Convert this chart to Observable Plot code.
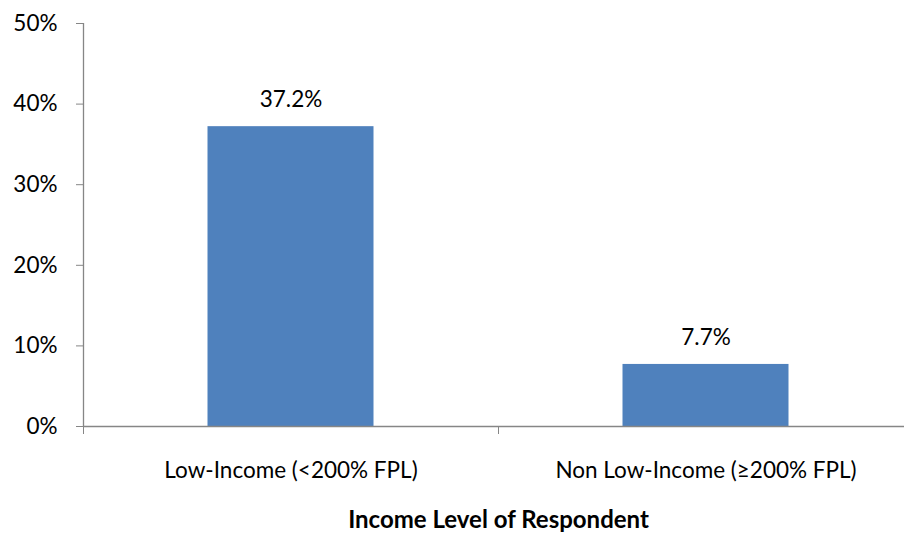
<!DOCTYPE html>
<html><head><meta charset="utf-8">
<script src="https://cdn.jsdelivr.net/npm/d3@7"></script>
<script src="https://cdn.jsdelivr.net/npm/@observablehq/plot@0.6"></script>
<style>body{margin:0;background:#fff} svg{display:block}</style>
</head><body><div id="chart"></div>
<script>
const categories = ["Low-Income (<200% FPL)", "Non Low-Income (≥200% FPL)"];
const values = [37.2, 7.7];
const valueLabels = ["37.2%", "7.7%"];
const yTicks = [0, 10, 20, 30, 40, 50];
const xTitle = "Income Level of Respondent";

const data = categories.map((c, i) => ({i, c, v: values[i], label: valueLabels[i]}));
const boundaries = [-0.5, 0.5, 1.5];
const halfBar = 0.2;
const axisGray = "#868686";
const fs = 22.5;

const chart = Plot.plot({
  width: 904, height: 534,
  marginLeft: 83, marginRight: 0, marginTop: 23, marginBottom: 108,
  style: {fontFamily: "Lato, 'Open Sans', sans-serif", fontSize: fs + "px", color: "#000", background: "#fff"},
  x: {domain: [-0.5, 1.5], range: [83, 913], label: null},
  y: {domain: [0, 50], range: [426, 23], label: null},
  marks: [
    Plot.rectY(data, {x1: d => d.i - halfBar, x2: d => d.i + halfBar, y1: 0, y2: "v", fill: "#4F81BD"}),
    Plot.ruleY([0], {stroke: axisGray, strokeWidth: 1.3}),
    Plot.ruleX([boundaries[0]], {y1: 0, y2: 50, stroke: axisGray, strokeWidth: 1.3}),
    Plot.axisY({ticks: yTicks, tickFormat: d => d + "%", tickSize: 7, tickPadding: 19, stroke: axisGray, fill: "#000", fontSize: fs, label: null}),
    Plot.axisX({ticks: boundaries, tickSize: 8, tickFormat: () => "", stroke: axisGray, label: null}),
    Plot.text(data, {x: "i", y: 0, text: "c", dy: 44, fontSize: fs, fill: "#000"}),
    Plot.text(data, {x: "i", y: "v", text: "label", dy: -27, fontSize: fs, fill: "#000"}),
    Plot.text([xTitle], {x: 0.5, y: 0, text: d => d, dy: 94, fontSize: 24, fontWeight: "bold", fill: "#000"})
  ]
});
document.getElementById("chart").appendChild(chart);
</script>
</body></html>
